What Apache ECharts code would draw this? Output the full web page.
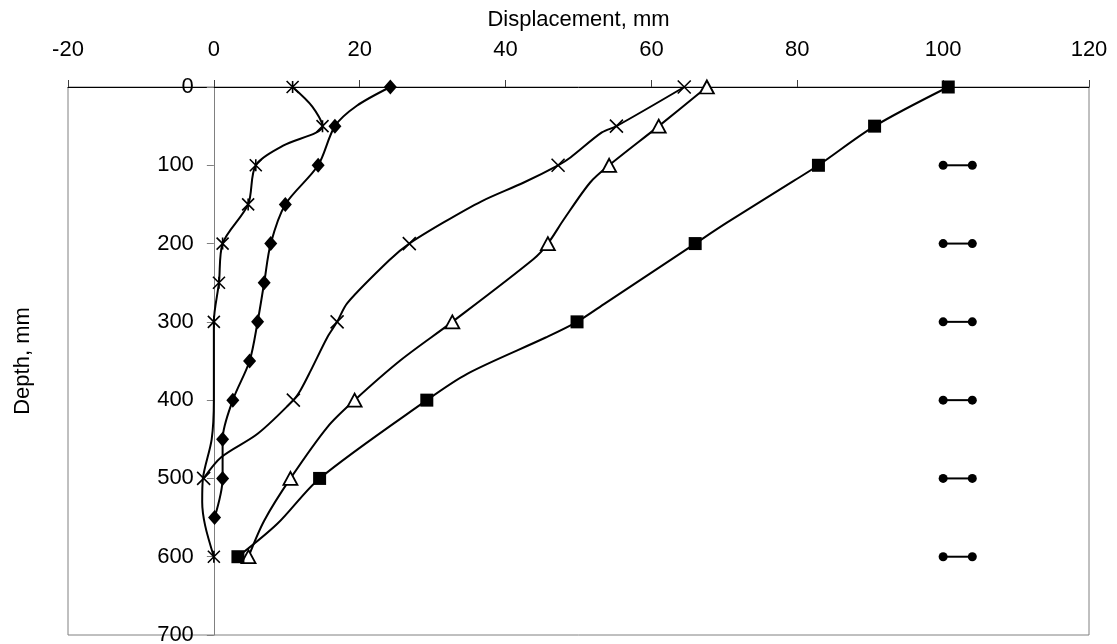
<!DOCTYPE html>
<html>
<head>
<meta charset="utf-8">
<script src="https://cdn.jsdelivr.net/npm/echarts@6/dist/echarts.min.js"></script>
<style>html,body{margin:0;padding:0;background:#fff;}#c{width:1117px;height:644px;}</style>
</head>
<body>
<div id="c"></div>
<script>
// ---- Data (displacement in mm, depth in mm) ----
const xTicks = [-20, 0, 20, 40, 60, 80, 100, 120];
const yTicks = [0, 100, 200, 300, 400, 500, 600, 700];

// Series A (asterisk markers)
const starMarkDepth = [0, 50, 100, 150, 200, 250, 300, 600];
const starMarkDisp  = [10.8, 14.9, 5.75, 4.7, 1.2, 0.7, 0.0, 0.0];
const starCurveDepth = [25, 75, 350, 400, 450, 500, 530, 560];
const starCurveDisp  = [13.5, 9.5, 0.0, 0.0, -0.3, -1.5, -1.6, -1.2];

// Series B (diamond markers)
const diaMarkDepth = [0, 50, 100, 150, 200, 250, 300, 350, 400, 450, 500, 550];
const diaMarkDisp  = [24.2, 16.6, 14.3, 9.8, 7.8, 6.9, 6.0, 4.9, 2.6, 1.2, 1.2, 0.1];
const diaCurveDepth = [24];
const diaCurveDisp  = [19.6];

// Series C (x markers)
const crossMarkDepth = [0, 50, 100, 200, 300, 400, 500];
const crossMarkDisp  = [64.5, 55.2, 47.2, 26.8, 16.9, 10.9, -1.4];
const crossCurveDepth = [58, 90, 122, 146, 173, 220, 276, 319, 362, 387, 443, 473];
const crossCurveDisp  = [53.2, 48.9, 42.5, 36.7, 31.5, 24.2, 18.3, 15.6, 13.3, 11.9, 6.0, 1.0];

// Series D (open triangle markers)
const triMarkDepth = [0, 50, 100, 200, 300, 400, 500, 600];
const triMarkDisp  = [67.6, 61.0, 54.2, 45.8, 32.7, 19.3, 10.5, 4.75];
const triCurveDepth = [122, 169, 220, 349, 434, 554];
const triCurveDisp  = [51.6, 48.0, 43.8, 25.6, 15.6, 6.9];

// Series E (filled square markers)
const sqMarkDepth = [0, 50, 100, 200, 300, 400, 500, 600];
const sqMarkDisp  = [100.7, 90.6, 82.9, 66.0, 49.8, 29.2, 14.5, 3.3];
const sqCurveDepth = [120, 173, 276, 320, 366, 558];
const sqCurveDisp  = [79.5, 70.4, 53.7, 45.5, 34.8, 8.7];

// Short reference bars (dot - dot)
const barDepths = [100, 200, 300, 400, 500, 600];
const barLeft = 100;
const barRight = 104;

// ---- helpers ----
function pairs(disp, depth) { return disp.map((d, i) => [d, depth[i]]); }
function curve(mDisp, mDepth, cDisp, cDepth) {
  return pairs(mDisp, mDepth).concat(pairs(cDisp, cDepth)).sort((a, b) => a[1] - b[1]);
}

const BLACK = '#000';
const lineStyle = { color: BLACK, width: 2 };

const asterisk = 'path://M0,0L10,10M10,0L0,10M5,0L5,10';
const xcross = 'path://M0,0L10,10M10,0L0,10';

function lineSeries(data) {
  return { type: 'line', data: data, smooth: 0.3, showSymbol: false, symbol: 'none',
           lineStyle: lineStyle, z: 2, silent: true, animation: false };
}
function markSeries(data, symbol, size, itemStyle) {
  itemStyle.opacity = 1;
  return { type: 'scatter', data: data, symbol: symbol, symbolSize: size,
           itemStyle: itemStyle, z: 3, silent: true, animation: false };
}

const series = [
  lineSeries(curve(starMarkDisp, starMarkDepth, starCurveDisp, starCurveDepth)),
  lineSeries(curve(diaMarkDisp, diaMarkDepth, diaCurveDisp, diaCurveDepth)),
  lineSeries(curve(crossMarkDisp, crossMarkDepth, crossCurveDisp, crossCurveDepth)),
  lineSeries(curve(triMarkDisp, triMarkDepth, triCurveDisp, triCurveDepth)),
  lineSeries(curve(sqMarkDisp, sqMarkDepth, sqCurveDisp, sqCurveDepth)),
  markSeries(pairs(starMarkDisp, starMarkDepth), asterisk, 12, { color: 'none', borderColor: BLACK, borderWidth: 1.6 }),
  markSeries(pairs(diaMarkDisp, diaMarkDepth), 'diamond', [13, 15], { color: BLACK }),
  markSeries(pairs(crossMarkDisp, crossMarkDepth), xcross, 13, { color: 'none', borderColor: BLACK, borderWidth: 1.6 }),
  markSeries(pairs(triMarkDisp, triMarkDepth), 'triangle', [14, 13], { color: '#fff', borderColor: BLACK, borderWidth: 1.8 }),
  markSeries(pairs(sqMarkDisp, sqMarkDepth), 'rect', 13, { color: BLACK })
];
barDepths.forEach(d => {
  series.push({ type: 'line', data: [[barLeft, d], [barRight, d]], symbol: 'circle', symbolSize: 9,
                showSymbol: true, itemStyle: { color: BLACK, opacity: 1 }, lineStyle: lineStyle,
                z: 3, silent: true, animation: false });
});

const FONT = '"Liberation Sans", Arial, sans-serif';
const GRID_LEFT = 68, GRID_RIGHT = 28;
const plotWidth = 1117 - GRID_LEFT - GRID_RIGHT;
// pixel distance from the grid's left edge to displacement = 0 (where the depth axis sits)
const zeroOffset = plotWidth * (0 - xTicks[0]) / (xTicks[xTicks.length - 1] - xTicks[0]);

const option = {
  backgroundColor: '#fff',
  animation: false,
  grid: { left: GRID_LEFT, right: GRID_RIGHT, top: 87, bottom: 9, show: true, borderColor: '#808080', borderWidth: 1,
          backgroundColor: 'transparent', containLabel: false, outerBoundsMode: 'none' },
  xAxis: {
    type: 'value', position: 'top', min: xTicks[0], max: xTicks[xTicks.length - 1], interval: 20,
    name: 'Displacement, mm', nameLocation: 'middle', nameGap: 56,
    nameTextStyle: { fontFamily: FONT, fontSize: 22, color: BLACK },
    axisLine: { show: true, onZero: false, lineStyle: { color: BLACK, width: 1 } },
    axisTick: { show: true, inside: false, length: 7, lineStyle: { color: '#404040' } },
    axisLabel: { fontFamily: FONT, fontSize: 22, color: BLACK, margin: 26 },
    splitLine: { show: false }
  },
  yAxis: {
    type: 'value', inverse: true, min: yTicks[0], max: yTicks[yTicks.length - 1], interval: 100,
    position: 'left', offset: -zeroOffset,
    name: 'Depth, mm', nameLocation: 'middle', nameGap: 180, nameRotate: 90,
    nameTextStyle: { fontFamily: FONT, fontSize: 22, color: BLACK },
    axisLine: { show: true, onZero: false, lineStyle: { color: '#808080', width: 1 } },
    axisTick: { show: true, inside: false, length: 7, lineStyle: { color: '#808080' } },
    axisLabel: { fontFamily: FONT, fontSize: 22, color: BLACK, margin: 20 },
    splitLine: { show: false }
  },
  series: series
};

const chart = echarts.init(document.getElementById('c'), null, { renderer: 'canvas' });
chart.setOption(option);
</script>
</body>
</html>
